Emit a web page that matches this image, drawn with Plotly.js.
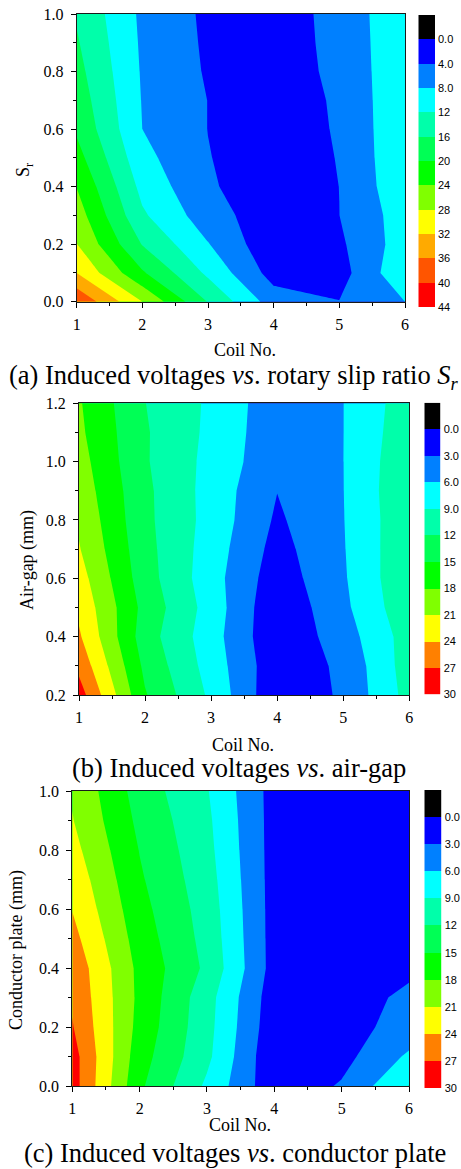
<!DOCTYPE html>
<html>
<head>
<meta charset="utf-8">
<script src="https://cdn.plot.ly/plotly-3.0.1.min.js"></script>
<style>
  html, body { margin: 0; padding: 0; background: #fff; }
  #fig { width: 461px; height: 1169px; }
</style>
</head>
<body>
<div id="fig"></div>
<script>
// ---- data ----------------------------------------------------------
const coilNo = [1, 2, 3, 4, 5, 6];

// (a) induced voltage vs rotary slip ratio Sr (rows: Sr, columns: coil)
const slipRatio = [0.0, 0.1, 0.2, 0.3, 0.4, 0.5, 0.6, 0.7, 0.8, 0.9, 1.0];
const voltSlip = [
  [39.5, 28.0, 15.8, 6.0, 4.1, 8.0],
  [32.0, 20.5, 11.2, 2.4, 2.3, 11.4],
  [28.1, 15.8, 8.2, 1.0, 3.3, 10.0],
  [26.0, 12.6, 5.8, 1.5, 3.98, 10.0],
  [23.9, 10.8, 4.5, 1.6, 4.02, 11.0],
  [21.5, 9.2, 4.15, 1.8, 4.17, 11.3],
  [19.4, 8.0, 3.95, 1.6, 4.42, 11.3],
  [18.3, 7.8, 3.95, 1.7, 4.58, 11.3],
  [17.3, 7.6, 3.6, 1.8, 5.0, 11.1],
  [16.4, 7.4, 3.4, 1.9, 5.2, 11.1],
  [15.6, 7.2, 3.25, 2.0, 5.3, 11.2]
];

// (b) induced voltage vs air-gap (mm)
const airGap = [0.2, 0.3, 0.4, 0.5, 0.6, 0.7, 0.8, 0.9, 1.0, 1.1, 1.2];
const voltGap = [
  [28.4, 15.25, 8.37, 0.5, 3.48, 10.1],
  [26.2, 14.3, 7.7, 0.9, 3.6, 10.5],
  [24.4, 13.4, 7.3, 0.5, 4.53, 10.4],
  [23.3, 14.0, 7.7, 0.5, 5.3, 11.2],
  [22.3, 13.3, 7.24, 1.3, 5.64, 11.6],
  [21.2, 13.0, 7.55, 1.9, 5.8, 11.5],
  [20.5, 12.7, 7.9, 2.53, 5.9, 11.4],
  [19.8, 12.64, 7.85, 3.05, 5.95, 11.6],
  [19.2, 12.3, 8.07, 3.85, 5.97, 11.4],
  [18.6, 12.3, 8.3, 3.98, 5.97, 11.0],
  [18.3, 12.05, 8.46, 4.07, 5.97, 10.7]
];

// (c) induced voltage vs conductor plate thickness (mm)
const plateThk = [0.0, 0.1, 0.2, 0.3, 0.4, 0.5, 0.6, 0.7, 0.8, 0.9, 1.0];
const voltPlate = [
  [28.4, 15.55, 8.45, 0.8, 3.3, 9.1],
  [28.3, 16.3, 9.7, 0.5, 2.0, 6.5],
  [27.2, 17.0, 10.0, 1.0, 2.0, 4.0],
  [26.6, 17.3, 10.2, 1.3, 2.55, 3.2],
  [26.2, 17.2, 11.4, 1.8, 2.3, 2.8],
  [25.0, 16.6, 11.0, 1.8, 2.2, 2.6],
  [23.9, 16.0, 10.7, 1.8, 2.0, 2.4],
  [23.0, 15.4, 10.3, 1.8, 1.9, 2.1],
  [22.0, 14.9, 9.9, 1.8, 1.7, 1.9],
  [21.15, 14.3, 9.6, 1.8, 1.6, 1.7],
  [20.7, 13.7, 9.2, 1.8, 1.5, 1.5]
];

// contour levels, legend labels and band colours (first colour = below 0)
const levelsSlip = [0, 4, 8, 12, 16, 20, 24, 28, 32, 36, 40, 44];
const labelsSlip = ['0.0', '4.0', '8.0', '12', '16', '20', '24', '28', '32', '36', '40', '44'];
const colorsSlip = ['#000000', '#0000FF', '#0080FF', '#00FFFF', '#00FFAA', '#00FF55',
                    '#00FF00', '#80FF00', '#FFFF00', '#FFAA00', '#FF5500', '#FF0000'];

const levelsV = [0, 3, 6, 9, 12, 15, 18, 21, 24, 27, 30];
const labelsV = ['0.0', '3.0', '6.0', '9.0', '12', '15', '18', '21', '24', '27', '30'];
const colorsV = ['#000000', '#0000FF', '#0080FF', '#00FFFF', '#00FFAA', '#00FF55',
                 '#00FF00', '#80FF00', '#FFFF00', '#FF8000', '#FF0000'];

// ---- helpers -------------------------------------------------------
const W = 461, H = 1169;
const fx = p => p / W;          // pixel x -> paper
const fy = p => 1 - p / H;      // pixel y -> paper
const SERIF = 'Liberation Serif, Times New Roman, serif';
const SANS = 'Liberation Sans, Arial, sans-serif';

// stepped colour scale: band k sits at k / n, matching contour fill lookup
function stepScale(colors) {
  const n = colors.length;
  const s = colors.map((c, k) => [k / n, c]);
  s.push([1, colors[n - 1]]);
  return s;
}

function contourTrace(z, y, levels, colors, xa, ya) {
  const step = levels[1] - levels[0];
  return {
    type: 'contour', x: coilNo, y: y, z: z, xaxis: xa, yaxis: ya,
    autocontour: false,
    contours: { start: levels[0], end: levels[levels.length - 1], size: step, coloring: 'fill', showlines: false },
    line: { width: 0, smoothing: 0 },
    colorscale: stepScale(colors),
    zmin: levels[0] - step / 2, zmax: levels[levels.length - 1] + step / 2,
    showscale: false, hoverinfo: 'skip'
  };
}

// legend strip: one cell per band, including the band below the first level
function legendTrace(levels, colors, xa, ya) {
  const step = levels[1] - levels[0];
  const centers = [levels[0] - step / 2].concat(levels.slice(1).map(v => v - step / 2));
  return {
    type: 'heatmap', x: [0], y: centers, z: centers.map(c => [c]),
    xaxis: xa, yaxis: ya,
    colorscale: stepScale(colors),
    zmin: levels[0] - step / 2, zmax: levels[levels.length - 1] + step / 2,
    showscale: false, hoverinfo: 'skip', zsmooth: false
  };
}

function xAxisMain(dom, anchor) {
  return {
    domain: dom, anchor: anchor, range: [1, 6],
    tickvals: coilNo, ticks: 'outside', ticklen: 5, tickwidth: 1, tickcolor: '#000',
    minor: { dtick: 0.5, tick0: 1, ticks: 'outside', ticklen: 3, tickwidth: 1, tickcolor: '#000', showgrid: false },
    showline: true, mirror: true, linecolor: '#1a1a1a', linewidth: 1,
    showgrid: false, zeroline: false,
    tickfont: { family: SERIF, size: 16, color: '#000' }, ticklabelstandoff: 3
  };
}
function yAxisMain(dom, anchor, range, tick0) {
  return {
    domain: dom, anchor: anchor, range: range,
    tick0: tick0, dtick: 0.2, tickformat: '.1f',
    ticks: 'outside', ticklen: 5, tickwidth: 1, tickcolor: '#000',
    minor: { dtick: 0.1, tick0: tick0, ticks: 'outside', ticklen: 3, tickwidth: 1, tickcolor: '#000', showgrid: false },
    showline: true, mirror: true, linecolor: '#1a1a1a', linewidth: 1,
    showgrid: false, zeroline: false,
    tickfont: { family: SERIF, size: 16, color: '#000' }, ticklabelstandoff: 4
  };
}
function xAxisBar(dom, anchor) {
  return { domain: dom, anchor: anchor, range: [-0.5, 0.5], visible: false, fixedrange: true };
}
function yAxisBar(dom, anchor, levels, labels) {
  const step = levels[1] - levels[0];
  return {
    domain: dom, anchor: anchor, side: 'right',
    range: [levels[levels.length - 1], levels[0] - step],
    tickvals: levels, ticktext: labels, ticks: '',
    showline: false, showgrid: false, zeroline: false,
    tickfont: { family: SANS, size: 11, color: '#000' }, ticklabelstandoff: 2
  };
}

// ---- figure --------------------------------------------------------
const data = [
  contourTrace(voltSlip, slipRatio, levelsSlip, colorsSlip, 'x', 'y'),
  contourTrace(voltGap, airGap, levelsV, colorsV, 'x2', 'y2'),
  contourTrace(voltPlate, plateThk, levelsV, colorsV, 'x3', 'y3'),
  legendTrace(levelsSlip, colorsSlip, 'x4', 'y4'),
  legendTrace(levelsV, colorsV, 'x5', 'y5'),
  legendTrace(levelsV, colorsV, 'x6', 'y6')
];

function note(text, x, y, size, extra) {
  return Object.assign({
    xref: 'paper', yref: 'paper', x: fx(x), y: fy(y), text: text,
    showarrow: false, xanchor: 'center', yanchor: 'middle',
    font: { family: SERIF, size: size, color: '#000' }
  }, extra || {});
}

const layout = {
  width: W, height: H,
  margin: { l: 0, r: 0, t: 0, b: 0 },
  paper_bgcolor: '#fff', plot_bgcolor: '#fff',
  showlegend: false,
  xaxis: xAxisMain([fx(76.7), fx(405)], 'y'),
  yaxis: yAxisMain([fy(301.7), fy(14)], 'x', [0, 1], 0),
  xaxis2: xAxisMain([fx(79), fx(409.3)], 'y2'),
  yaxis2: yAxisMain([fy(695), fy(403.3)], 'x2', [0.2, 1.2], 0.2),
  xaxis3: xAxisMain([fx(72.3), fx(409)], 'y3'),
  yaxis3: yAxisMain([fy(1086), fy(791)], 'x3', [0, 1], 0),
  xaxis4: xAxisBar([fx(418.3), fx(435)], 'y4'),
  yaxis4: yAxisBar([fy(307.3), fy(15)], 'x4', levelsSlip, labelsSlip),
  xaxis5: xAxisBar([fx(424.3), fx(440.7)], 'y5'),
  yaxis5: yAxisBar([fy(694.3), fy(402.7)], 'x5', levelsV, labelsV),
  xaxis6: xAxisBar([fx(424.3), fx(441.7)], 'y6'),
  yaxis6: yAxisBar([fy(1088.3), fy(790)], 'x6', levelsV, labelsV),
  annotations: [
    note('S<sub>r</sub>', 25, 170, 18, { textangle: -90 }),
    note('Air-gap (mm)', 27, 560, 18, { textangle: -90 }),
    note('Conductor plate (mm)', 16, 950, 18, { textangle: -90 }),
    note('Coil No.', 245, 350, 18),
    note('Coil No.', 243, 745, 18),
    note('Coil No.', 240, 1125, 18),
    note('(a) Induced voltages <i>vs</i>. rotary slip ratio <i>S<sub>r</sub></i>', 234, 377, 26.5),
    note('(b) Induced voltages <i>vs</i>. air-gap', 238.5, 768, 26.5),
    note('(c) Induced voltages <i>vs</i>. conductor plate', 235, 1153, 26.5)
  ]
};

Plotly.newPlot('fig', data, layout, { staticPlot: true, displayModeBar: false });
</script>
</body>
</html>
